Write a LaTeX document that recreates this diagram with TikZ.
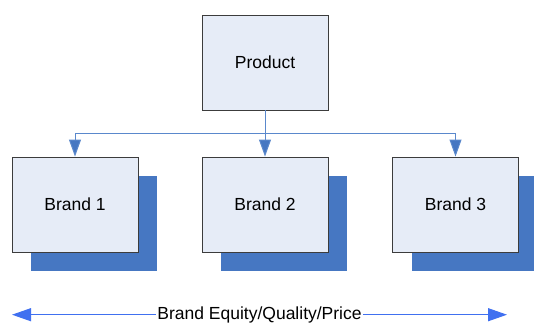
\documentclass[tikz,border=0pt]{standalone}
\usepackage{fontspec}
\setmainfont{Liberation Sans}
\usetikzlibrary{arrows.meta,shadows}

\definecolor{boxfill}{HTML}{E6ECF7}
\definecolor{boxline}{HTML}{3C3C3C}
\definecolor{shadowblue}{HTML}{4677C2}
\definecolor{linkblue}{HTML}{5A88CC}
\definecolor{scaleblue}{HTML}{4070F0}

\tikzset{
    plainbox/.style={rectangle, draw=boxline, line width=0.9pt, fill=boxfill,
        minimum width=126pt, minimum height=95pt, inner sep=0pt,
        font=\fontsize{17.5}{20}\selectfont},
    box/.style={plainbox,
        drop shadow={shadow xshift=19pt, shadow yshift=-19pt,
            fill=shadowblue, opacity=1}},
    link/.style={draw=linkblue, line width=1pt,
        -{Triangle[length=17pt,width=12pt,fill=shadowblue]}},
    scalearrow/.style={draw=scaleblue, line width=1.1pt,
        {Triangle[length=19pt,width=13pt]}-{Triangle[length=19pt,width=13pt]}}
}

\begin{document}
\begin{tikzpicture}[x=1pt,y=-1pt]
    \useasboundingbox (0,0) rectangle (534,325);

    % Boxes
    \node[plainbox] (prod) at (265,62.5) {Product};
    \foreach \i/\x in {1/75,2/265,3/455.5}
        \node[box] (b\i) at (\x,204.5) {Brand \i};

    % Links
    \draw[link] (prod.south) -- ++(0,23.5) -| (b1.north);
    \draw[link] (prod.south) -- ++(0,23.5) -| (b3.north);
    \draw[link] (prod.south) -- (b2.north);

    % Scale
    \coordinate (lo) at (12,314.7);
    \coordinate (hi) at (507,314.7);
    \draw[scalearrow] (lo) -- (hi);
    \node[fill=white, inner sep=1pt, font=\fontsize{17.5}{20}\selectfont]
        (scale) at (259.5,314.7) {Brand Equity/Quality/Price};
\end{tikzpicture}
\end{document}
